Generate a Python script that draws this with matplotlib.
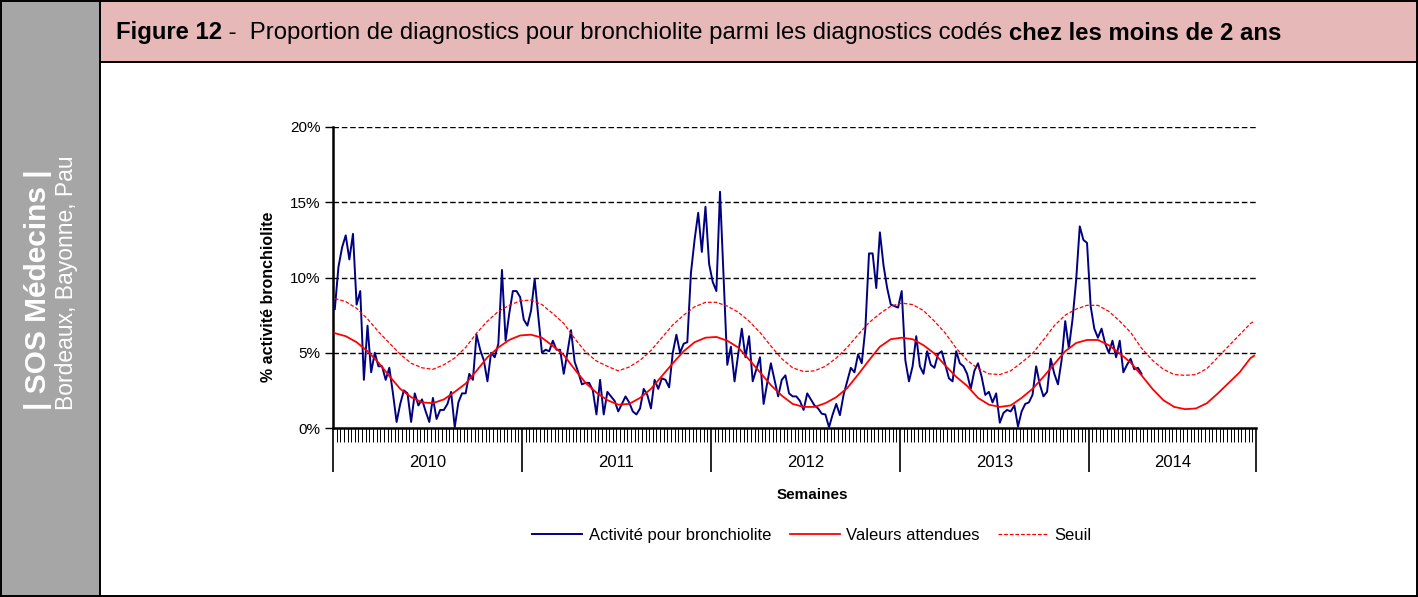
import numpy as np
import matplotlib.pyplot as plt
from matplotlib.patches import Rectangle
from matplotlib.lines import Line2D
from matplotlib.transforms import blended_transform_factory

plt.rcParams['font.family'] = ['Liberation Sans', 'DejaVu Sans']

# activite hebdomadaire (%) - semaine 1 de 2010 -> semaine 15 de 2014
activite_2010 = [7.9, 10.7, 12.0, 12.8, 11.2, 12.9, 8.2, 9.1, 3.2, 6.8, 3.7, 5.0, 4.1, 4.1, 3.2, 4.0,
                 2.3, 0.4, 1.6, 2.5, 2.3, 0.4, 2.3, 1.5, 1.9, 1.1, 0.4, 2.0, 0.6, 1.2, 1.2, 1.6,
                 2.4, 0.05, 1.7, 2.3, 2.3, 3.6, 3.2, 6.2, 5.2, 4.5, 3.1, 5.0, 4.7, 5.6, 10.5, 5.8,
                 7.6, 9.1, 9.1, 8.7]
activite_2011 = [7.2, 6.8, 7.8, 9.9, 7.4, 5.0, 5.2, 5.1, 5.8, 5.2, 5.2, 3.6, 5.0, 6.5, 4.4, 3.7,
                 2.9, 3.0, 3.0, 2.5, 0.9, 3.2, 0.9, 2.4, 2.1, 1.8, 1.1, 1.6, 2.1, 1.7, 1.1, 0.9,
                 1.3, 2.6, 2.2, 1.3, 3.2, 2.6, 3.3, 3.2, 2.7, 5.0, 6.2, 5.0, 5.6, 5.7, 10.3, 12.5,
                 14.3, 11.7, 14.7, 10.9]
activite_2012 = [9.7, 9.1, 15.7, 10.0, 4.2, 5.4, 3.1, 4.9, 6.6, 4.7, 6.1, 3.1, 3.9, 4.7, 1.6, 3.0,
                 4.3, 3.2, 2.1, 3.2, 3.5, 2.3, 2.1, 2.1, 1.8, 1.2, 2.3, 1.9, 1.5, 1.3, 0.95, 0.9,
                 0.05, 0.9, 1.6, 0.85, 2.2, 3.1, 4.0, 3.7, 4.9, 4.3, 6.6, 11.6, 11.6, 9.3, 13.0, 10.8,
                 9.3, 8.2, 8.1, 8.0]
activite_2013 = [9.1, 4.5, 3.1, 4.1, 6.1, 4.1, 3.6, 5.1, 4.2, 4.0, 4.9, 5.1, 4.2, 3.3, 3.1, 5.1,
                 4.3, 4.1, 3.6, 2.6, 3.8, 4.3, 3.4, 2.2, 2.4, 1.7, 2.3, 0.35, 1.0, 1.2, 1.1, 1.5,
                 0.1, 1.1, 1.6, 1.7, 2.2, 4.1, 2.9, 2.1, 2.4, 4.6, 3.6, 2.9, 4.5, 7.1, 5.3, 7.2,
                 9.8, 13.4, 12.5, 12.3]
activite_2014 = [8.1, 6.6, 6.0, 6.6, 5.6, 5.0, 5.8, 4.7, 5.8, 3.7, 4.2, 4.6, 3.9, 4.0, 3.6]
activite = activite_2010 + activite_2011 + activite_2012 + activite_2013 + activite_2014

# valeurs attendues et seuil, lus toutes les 3 semaines
semaines_ref = list(range(0, 253, 3)) + [253]
attendues = [6.3, 6.1, 5.7, 5.1, 4.35, 3.45, 2.6, 2.05, 1.7, 1.65, 1.9, 2.4, 2.95, 3.8, 4.7, 5.35,
             5.85, 6.15, 6.2, 6.0, 5.45, 4.85, 3.9, 3.0, 2.35, 1.85, 1.55, 1.6, 2.0, 2.6, 3.45, 4.3,
             5.1, 5.7, 6.0, 6.05, 5.8, 5.35, 4.55, 3.7, 2.85, 2.15, 1.6, 1.4, 1.4, 1.65, 2.05, 2.65,
             3.55, 4.5, 5.4, 5.9, 6.0, 5.9, 5.5, 4.95, 4.15, 3.4, 2.8, 2.0, 1.55, 1.4, 1.5, 2.0,
             2.6, 3.4, 4.25, 5.1, 5.65, 5.85, 5.85, 5.5, 4.95, 4.35, 3.5, 2.6, 1.85, 1.4, 1.25, 1.3,
             1.65, 2.3, 3.0, 3.7, 4.65, 4.8]
seuil = [8.6, 8.4, 7.95, 7.25, 6.4, 5.65, 4.9, 4.3, 4.0, 3.9, 4.2, 4.65, 5.35, 6.3, 7.1, 7.75,
         8.15, 8.45, 8.5, 8.2, 7.6, 6.95, 5.95, 5.05, 4.45, 4.1, 3.8, 4.05, 4.5, 5.15, 6.0, 6.85,
         7.5, 8.05, 8.35, 8.35, 8.1, 7.7, 7.1, 6.35, 5.45, 4.6, 4.0, 3.75, 3.8, 4.1, 4.65, 5.35,
         6.2, 7.0, 7.6, 8.1, 8.3, 8.2, 7.8, 7.1, 6.3, 5.3, 4.5, 3.95, 3.6, 3.55, 3.8, 4.35,
         4.95, 5.85, 6.8, 7.5, 7.9, 8.15, 8.15, 7.75, 7.1, 6.35, 5.3, 4.5, 3.9, 3.55, 3.5, 3.55,
         3.95, 4.7, 5.45, 6.2, 6.95, 7.1]

annees = ['2010', '2011', '2012', '2013', '2014']
semaines_par_annee = [52, 52, 52, 52, 46]

W, H = 1418, 597
fig = plt.figure(figsize=(W / 100, H / 100), dpi=100)


def fx(px):
    return px / W


def fy(py):
    return 1 - py / H


# cadre : bandeau gris a gauche, titre rose en haut
fig.patches.append(Rectangle((0, 0), fx(100), 1, transform=fig.transFigure,
                             facecolor='#A6A6A6', edgecolor='none', zorder=0))
fig.patches.append(Rectangle((fx(100), fy(62)), 1 - fx(100), 62 / H, transform=fig.transFigure,
                             facecolor='#E6B8B7', edgecolor='none', zorder=0))
for xs, ys in [([0, 1], [fy(0.7), fy(0.7)]), ([0, 1], [fy(596.3), fy(596.3)]),
               ([fx(0.7), fx(0.7)], [0, 1]), ([fx(1417.3), fx(1417.3)], [0, 1]),
               ([fx(100), fx(100)], [0, 1]), ([fx(100), 1], [fy(62), fy(62)])]:
    fig.add_artist(Line2D(xs, ys, transform=fig.transFigure, color='black', lw=1.4))

fig.text(fx(38), fy(410), '| SOS Médecins |', rotation=90, rotation_mode='anchor',
         ha='left', va='center', fontsize=21.5, fontweight='bold', color='white')
fig.text(fx(67), fy(410), 'Bordeaux, Bayonne, Pau', rotation=90, rotation_mode='anchor',
         ha='left', va='center', fontsize=16.5, color='white')

# titre en plusieurs morceaux (gras / normal / gras)
renderer = fig.canvas.get_renderer()
x0 = fx(116)
for txt, poids in [('Figure 12', 'bold'),
                   (' -  Proportion de diagnostics pour bronchiolite parmi les diagnostics codés ', 'normal'),
                   ('chez les moins de 2 ans', 'bold')]:
    t = fig.text(x0, fy(33), txt, fontsize=17.2, fontweight=poids, va='center', ha='left')
    bb = t.get_window_extent(renderer)
    x0 = bb.x1 / W

# graphique
ax = fig.add_axes([fx(333), fy(428), fx(1256) - fx(333), fy(127) - fy(428)])
ax.plot(np.arange(len(activite)), activite, color='#000080', lw=1.4, zorder=3,
        label='Activité pour bronchiolite')
ax.plot(semaines_ref, attendues, color='#FF0000', lw=1.3, zorder=3, label='Valeurs attendues')
ax.plot(semaines_ref, seuil, color='#FF0000', lw=0.9, ls=(0, (3, 1.5)), zorder=3, label='Seuil')

for v in [5, 10, 15, 20]:
    ax.axhline(v, color='black', lw=1, ls=(0, (4, 2)), zorder=1)

ax.set_xlim(-0.5, sum(semaines_par_annee) - 0.5)
ax.set_ylim(0, 20)
ax.set_yticks([0, 5, 10, 15, 20])
ax.set_yticklabels(['0%', '5%', '10%', '15%', '20%'])
ax.tick_params(axis='y', length=6, width=1, labelsize=11, pad=3)

bornes = np.cumsum([0] + semaines_par_annee) - 0.5
ax.set_xticks(bornes)
ax.set_xticklabels([])
ax.set_xticks(np.arange(-0.5, sum(semaines_par_annee), 1), minor=True)
ax.tick_params(axis='x', which='major', length=32, width=1.2)
ax.tick_params(axis='x', which='minor', length=10, width=0.7)

trans = blended_transform_factory(ax.transData, ax.transAxes)
for a, c in zip(annees, (bornes[:-1] + bornes[1:]) / 2):
    ax.text(c, -0.116, a, transform=trans, ha='center', va='center', fontsize=12)

for s in ['top', 'right']:
    ax.spines[s].set_visible(False)
for s in ['left', 'bottom']:
    ax.spines[s].set_linewidth(1.8)

ax.text(-0.0704, 0.435, '% activité bronchiolite', transform=ax.transAxes, rotation=90,
        ha='center', va='center', fontsize=11.5, fontweight='bold')
ax.text(0.519, -0.2226, 'Semaines', transform=ax.transAxes, ha='center', va='center',
        fontsize=11, fontweight='bold')

ax.legend(loc='center', bbox_to_anchor=(0.519, -0.3555), ncol=3, frameon=False, fontsize=12,
          handlelength=3.0, columnspacing=1.1, handletextpad=0.4)

fig.savefig('out.png', dpi=100)
